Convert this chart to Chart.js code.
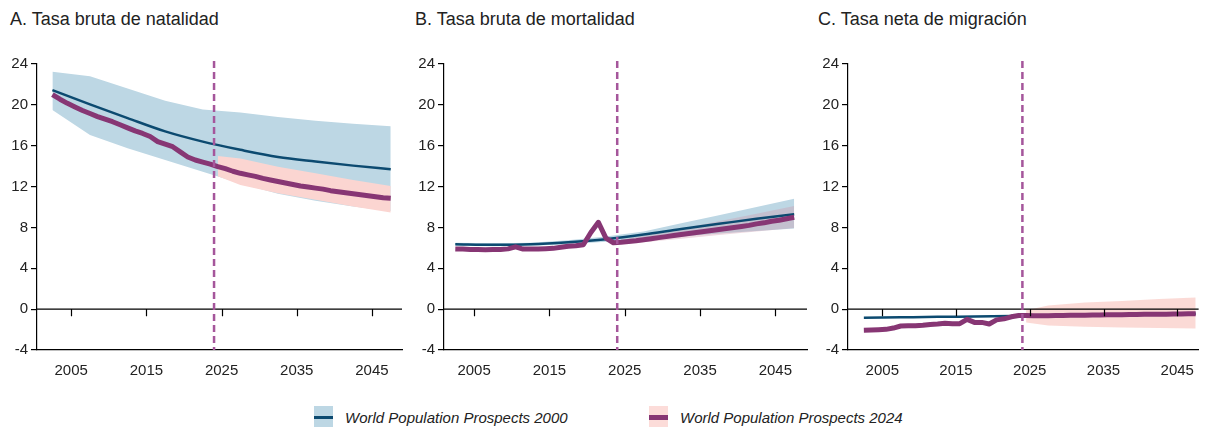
<!DOCTYPE html>
<html lang="es">
  <head>
    <meta charset="UTF-8" />
    <script src="https://cdn.jsdelivr.net/npm/chart.js@4.4.1/dist/chart.umd.min.js"></script>
    <title>Tasas demográficas</title>
    <style>
      body {
        margin: 0;
        padding: 0;
        background: #fff;
        width: 1206px;
        height: 427px;
        position: relative;
        overflow: hidden;
        font-family: 'Liberation Sans', Arial, sans-serif;
        color: #222;
      }
      canvas {
        position: absolute;
        top: 0;
      }
      .title {
        position: absolute;
        top: 9px;
        font-size: 18px;
        white-space: nowrap;
      }
      .legend-item {
        position: absolute;
        top: 406px;
        height: 22px;
        display: flex;
        align-items: center;
        font-style: italic;
        font-size: 15px;
        white-space: nowrap;
      }
      .swatch {
        width: 19px;
        height: 22px;
        margin-right: 12px;
        display: flex;
        align-items: center;
      }
      .swatch span {
        display: block;
        width: 100%;
      }
    </style>
  </head>
  <body>
    <div class="title" style="left: 10px">A. Tasa bruta de natalidad</div>
    <div class="title" style="left: 415px">B. Tasa bruta de mortalidad</div>
    <div class="title" style="left: 818px">C. Tasa neta de migración</div>

    <canvas id="chartA" width="404" height="390" style="left: 0px"></canvas>
    <canvas id="chartB" width="402" height="390" style="left: 407px"></canvas>
    <canvas id="chartC" width="395" height="390" style="left: 811px"></canvas>

    <div class="legend-item" style="left: 314px">
      <div class="swatch" style="background: #bdd7e4"><span style="height: 3px; background: #0c4a70"></span></div>
      World Population Prospects 2000
    </div>
    <div class="legend-item" style="left: 649px">
      <div class="swatch" style="background: #fcdcd9"><span style="height: 5px; background: #873674"></span></div>
      World Population Prospects 2024
    </div>

    <script>
      // periodos quinquenales (WPP 2000) y años (WPP 2024)
      const years5 = [2002.5, 2007.5, 2012.5, 2017.5, 2022.5, 2027.5, 2032.5, 2037.5, 2042.5, 2047.5]
      const yearsAnnual = [
        2002.5, 2003.5, 2004.5, 2005.5, 2006.5, 2007.5, 2008.5, 2009.5, 2010.5, 2011.5,
        2012.5, 2013.5, 2014.5, 2015.5, 2016.5, 2017.5, 2018.5, 2019.5, 2020.5, 2021.5,
        2022.5, 2023.5, 2024.5, 2025.5, 2026.5, 2027.5, 2028.5, 2029.5, 2030.5, 2031.5,
        2032.5, 2033.5, 2034.5, 2035.5, 2036.5, 2037.5, 2038.5, 2039.5, 2040.5, 2041.5,
        2042.5, 2043.5, 2044.5, 2045.5, 2046.5, 2047.5,
      ]
      const projYears = [2024.5, 2027.5, 2032.5, 2037.5, 2042.5, 2047.5]
      const xTicks = [2005, 2015, 2025, 2035, 2045]
      const baseYear = 2024

      // A. natalidad
      const nat2000 = [21.45, 20.05, 18.7, 17.4, 16.4, 15.6, 14.9, 14.45, 14.05, 13.7]
      const nat2000Hi = [23.25, 22.8, 21.6, 20.4, 19.55, 19.25, 18.8, 18.45, 18.15, 17.9]
      const nat2000Lo = [19.5, 17.05, 15.75, 14.6, 13.45, 12.3, 11.3, 10.6, 10.05, 9.6]
      const nat2024 = [
        21.0, 20.55, 20.15, 19.8, 19.45, 19.15, 18.85, 18.6, 18.35, 18.05,
        17.75, 17.45, 17.2, 16.9, 16.4, 16.15, 15.9, 15.4, 14.9, 14.6,
        14.4, 14.2, 13.95, 13.75, 13.5, 13.3, 13.15, 13.0, 12.8, 12.65,
        12.5, 12.35, 12.2, 12.05, 11.95, 11.85, 11.75, 11.6, 11.5, 11.4,
        11.3, 11.2, 11.1, 11.0, 10.9, 10.85,
      ]
      const nat2024Hi = [15.0, 14.75, 13.95, 13.3, 12.65, 12.05]
      const nat2024Lo = [13.0, 12.15, 11.35, 10.7, 10.05, 9.45]

      // B. mortalidad
      const mor2000 = [6.35, 6.3, 6.35, 6.55, 6.85, 7.3, 7.85, 8.35, 8.85, 9.3]
      const mor2000Hi = [6.5, 6.45, 6.5, 6.75, 7.1, 7.6, 8.4, 9.2, 10.0, 10.8]
      const mor2000Lo = [6.2, 6.15, 6.2, 6.35, 6.6, 6.85, 7.1, 7.4, 7.65, 7.9]
      const mor2024 = [
        5.9, 5.88, 5.85, 5.83, 5.82, 5.85, 5.85, 5.9, 6.1, 5.88,
        5.88, 5.9, 5.92, 5.95, 6.05, 6.15, 6.2, 6.3, 7.5, 8.5,
        6.95, 6.5, 6.55, 6.62, 6.7, 6.8, 6.9, 7.0, 7.1, 7.2,
        7.3, 7.4, 7.5, 7.6, 7.7, 7.8, 7.9, 8.0, 8.1, 8.2,
        8.35, 8.45, 8.6, 8.7, 8.85, 9.0,
      ]
      const mor2024Hi = [6.8, 7.2, 7.9, 8.6, 9.35, 10.1]
      const mor2024Lo = [6.4, 6.55, 6.9, 7.25, 7.6, 7.95]

      // C. migración
      const mig2000 = [-0.85, -0.8, -0.75, -0.72, -0.68, -0.65, -0.6, -0.55, -0.5, -0.45]
      const mig2024 = [
        -2.07, -2.05, -2.02, -1.98, -1.85, -1.65, -1.62, -1.62, -1.58, -1.5,
        -1.45, -1.38, -1.42, -1.42, -1.0, -1.3, -1.3, -1.45, -1.05, -0.95,
        -0.75, -0.62, -0.62, -0.65, -0.65, -0.64, -0.63, -0.62, -0.61, -0.6,
        -0.59, -0.58, -0.57, -0.56, -0.55, -0.54, -0.53, -0.52, -0.51, -0.5,
        -0.5, -0.49, -0.48, -0.47, -0.46, -0.45,
      ]
      const mig2024Hi = [-0.1, 0.35, 0.65, 0.8, 1.0, 1.15]
      const mig2024Lo = [-1.3, -1.6, -1.72, -1.8, -1.85, -1.9]

      const navy = '#0c4a70'
      const purple = '#873674'
      const blueBand = '#bdd7e4'

      const pts = (xs, ys) => xs.map((x, i) => ({ x, y: ys[i] }))

      // eje en y = 0 con marcas, y línea vertical del año base
      const refLines = {
        id: 'refLines',
        afterDatasetsDraw(chart) {
          const { ctx, chartArea, scales } = chart
          const x = scales.x
          const y = scales.y
          const y0 = y.getPixelForValue(0)
          ctx.save()
          ctx.strokeStyle = '#000'
          ctx.lineWidth = 1.2
          ctx.beginPath()
          ctx.moveTo(chartArea.left, y0)
          ctx.lineTo(chartArea.right, y0)
          xTicks.forEach((t) => {
            const px = Math.round(x.getPixelForValue(t)) + 0.5
            ctx.moveTo(px, y0)
            ctx.lineTo(px, y0 + 7)
          })
          ctx.stroke()

          const vx = x.getPixelForValue(baseYear)
          ctx.strokeStyle = '#a5569b'
          ctx.lineWidth = 2.5
          ctx.setLineDash([7, 4])
          ctx.beginPath()
          ctx.moveTo(vx, chartArea.top - 3)
          ctx.lineTo(vx, chartArea.bottom)
          ctx.stroke()
          ctx.restore()
        },
      }

      function band(lo, hi, xs, color, order) {
        return [
          { data: pts(xs, lo), borderWidth: 0, pointRadius: 0, fill: false, order },
          { data: pts(xs, hi), borderWidth: 0, pointRadius: 0, fill: '-1', backgroundColor: color, order },
        ]
      }

      function makePanel(id, p) {
        const datasets = []
        if (p.blueLo) datasets.push(...band(p.blueLo, p.blueHi, years5, blueBand, 5))
        datasets.push(...band(p.pinkLo, p.pinkHi, projYears, p.pinkColor, 4))
        datasets.push({
          data: pts(years5, p.line2000),
          borderColor: navy,
          borderWidth: 2.5,
          pointRadius: 0,
          cubicInterpolationMode: 'monotone',
          fill: false,
          order: 2,
        })
        datasets.push({
          data: pts(yearsAnnual, p.line2024),
          borderColor: purple,
          borderWidth: 5,
          pointRadius: 0,
          borderJoinStyle: 'round',
          fill: false,
          order: 1,
        })

        new Chart(document.getElementById(id), {
          type: 'line',
          data: { datasets },
          plugins: [refLines],
          options: {
            responsive: false,
            animation: false,
            layout: { padding: { top: 64, right: p.padRight, left: 0, bottom: 0 } },
            plugins: {
              legend: { display: false },
              tooltip: { enabled: false },
            },
            scales: {
              x: {
                type: 'linear',
                min: p.xMin,
                max: p.xMax,
                afterBuildTicks: (scale) => {
                  scale.ticks = xTicks.map((v) => ({ value: v }))
                },
                afterFit: (scale) => {
                  scale.height = 40
                },
                grid: { drawOnChartArea: false, drawTicks: false },
                border: { display: true, color: '#000', width: 1.2, dash: [5, 4] },
                ticks: {
                  padding: 12,
                  maxRotation: 0,
                  color: '#222',
                  font: { family: "'Liberation Sans', Arial, sans-serif", size: 15 },
                  callback: (v) => String(v),
                },
              },
              y: {
                min: -4,
                max: 24,
                afterFit: (scale) => {
                  scale.width = 37
                },
                grid: { drawOnChartArea: false, drawTicks: true, tickLength: 6, color: '#000', lineWidth: 1.2 },
                border: { display: true, color: '#000', width: 1.2 },
                ticks: {
                  stepSize: 4,
                  padding: 3,
                  color: '#222',
                  font: { family: "'Liberation Sans', Arial, sans-serif", size: 15 },
                },
              },
            },
          },
        })
      }

      makePanel('chartA', {
        xMin: 2000.45, xMax: 2049.0, padRight: 2,
        blueLo: nat2000Lo, blueHi: nat2000Hi,
        pinkLo: nat2024Lo, pinkHi: nat2024Hi, pinkColor: '#fbd5d1',
        line2000: nat2000, line2024: nat2024,
      })
      makePanel('chartB', {
        xMin: 2001.0, xMax: 2049.2, padRight: 2,
        blueLo: mor2000Lo, blueHi: mor2000Hi,
        pinkLo: mor2024Lo, pinkHi: mor2024Hi, pinkColor: 'rgba(205, 150, 170, 0.35)',
        line2000: mor2000, line2024: mor2024,
      })
      makePanel('chartC', {
        xMin: 2000.35, xMax: 2047.9, padRight: 1,
        pinkLo: mig2024Lo, pinkHi: mig2024Hi, pinkColor: 'rgba(250, 205, 200, 0.75)',
        line2000: mig2000, line2024: mig2024,
      })
    </script>
  </body>
</html>
